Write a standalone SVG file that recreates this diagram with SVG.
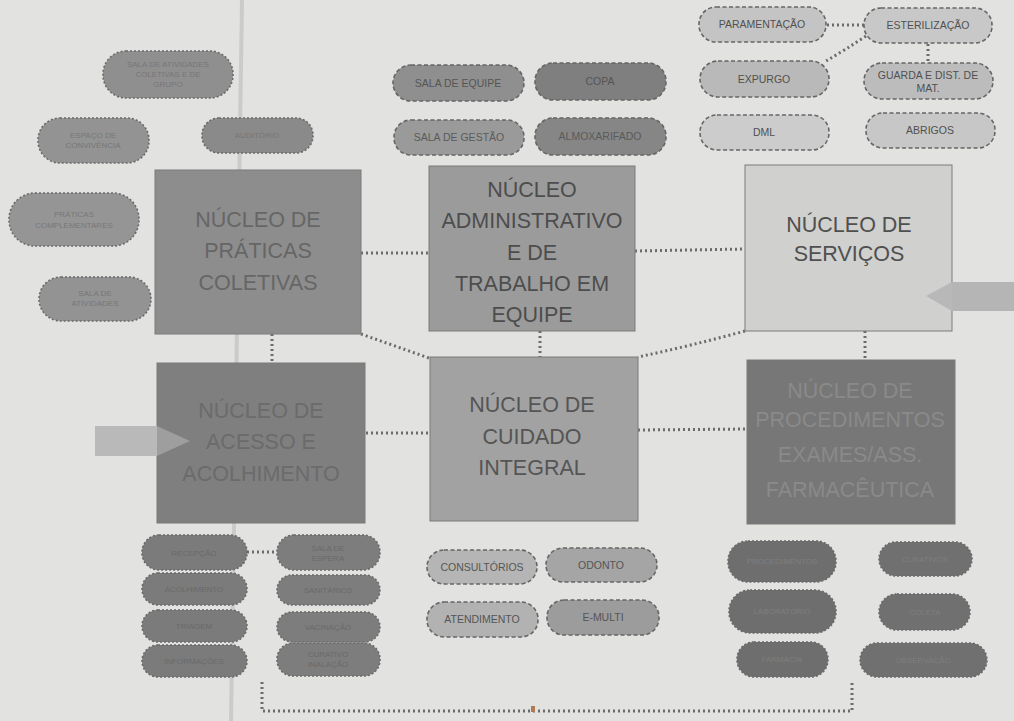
<svg xmlns="http://www.w3.org/2000/svg" width="1014" height="721" viewBox="0 0 1014 721">
<style>
text{font-family:"Liberation Sans",Arial,sans-serif;text-anchor:middle}
.big{font-size:21.5px}
.sm{font-size:10.5px}
.xs{font-size:8px}
.box{stroke:#7a7a7a;stroke-width:1}
.pill{stroke:#666;stroke-width:1.6;stroke-dasharray:4 2.5}
.dpill{stroke:#6a6a6a;stroke-width:1.6;stroke-dasharray:2 2}
.con{fill:none;stroke:#6b6b6b;stroke-width:3;stroke-dasharray:2 3}
</style>
<rect width="1014" height="721" fill="#e2e2e0"/>
<line x1="242" y1="0" x2="231" y2="721" stroke="#cbcbc9" stroke-width="4"/>

<g id="connectors">
<line class="con" x1="361" y1="253" x2="429" y2="253"/>
<line class="con" x1="635" y1="251" x2="745" y2="249"/>
<line class="con" x1="272" y1="334" x2="272" y2="363"/>
<line class="con" x1="540" y1="331" x2="540" y2="357"/>
<line class="con" x1="865" y1="331" x2="865" y2="360"/>
<line class="con" x1="366" y1="433" x2="430" y2="433"/>
<line class="con" x1="638" y1="430" x2="747" y2="429"/>
<path class="con" d="M361,334 Q395,346 429,358"/>
<path class="con" d="M745,331 Q690,346 638,357"/>
<path class="con" d="M262,682 L262,711 L852,711 L852,682"/>
<line class="con" x1="247" y1="552" x2="277" y2="552"/>
<line class="con" x1="827" y1="25" x2="864" y2="25"/>
<path class="con" d="M866,36 Q845,50 826,61"/>
<line class="con" x1="928" y1="44" x2="928" y2="63"/>
</g>
<rect x="531" y="706" width="4" height="6" fill="#b07a52"/>

<g id="n-praticas">
<rect class="box" x="155" y="170" width="206" height="164" fill="#8d8d8d"/>
<text class="big" fill="#666" x="258" y="227">NÚCLEO DE</text>
<text class="big" fill="#666" x="258" y="258">PRÁTICAS</text>
<text class="big" fill="#666" x="258" y="290">COLETIVAS</text>
</g>
<g id="n-admin">
<rect class="box" x="429" y="166" width="206" height="165" fill="#9b9b9b"/>
<text class="big" fill="#4d4d4d" x="532" y="197">NÚCLEO</text>
<text class="big" fill="#4d4d4d" x="532" y="228">ADMINISTRATIVO</text>
<text class="big" fill="#4d4d4d" x="532" y="260">E DE</text>
<text class="big" fill="#4d4d4d" x="532" y="291">TRABALHO EM</text>
<text class="big" fill="#4d4d4d" x="532" y="322">EQUIPE</text>
</g>
<g id="n-servicos">
<rect class="box" x="745" y="165" width="207" height="166" fill="#d0d0ce"/>
<text class="big" fill="#4f4f4f" x="849" y="232">NÚCLEO DE</text>
<text class="big" fill="#4f4f4f" x="849" y="261">SERVIÇOS</text>
</g>
<g id="n-acesso">
<rect class="box" x="157" y="363" width="208" height="160" fill="#7f7f7f"/>
<text class="big" fill="#6b6b6b" x="261" y="418">NÚCLEO DE</text>
<text class="big" fill="#6b6b6b" x="261" y="449">ACESSO E</text>
<text class="big" fill="#6b6b6b" x="261" y="481">ACOLHIMENTO</text>
</g>
<g id="n-cuidado">
<rect class="box" x="430" y="357" width="208" height="164" fill="#a2a2a2"/>
<text class="big" fill="#555" x="532" y="412">NÚCLEO DE</text>
<text class="big" fill="#555" x="532" y="444">CUIDADO</text>
<text class="big" fill="#555" x="532" y="475">INTEGRAL</text>
</g>
<g id="n-procedimentos">
<rect class="box" x="747" y="360" width="208" height="164" fill="#777"/>
<text class="big" fill="#8a8a8a" x="850" y="398">NÚCLEO DE</text>
<text class="big" fill="#8a8a8a" x="850" y="427">PROCEDIMENTOS</text>
<text class="big" fill="#8a8a8a" x="850" y="462">EXAMES/ASS.</text>
<text class="big" fill="#8a8a8a" x="850" y="497">FARMACÊUTICA</text>
</g>

<g id="arrow-left">
<polygon points="95,426 157,426 157,456 95,456" fill="#b9b9b9"/>
<polygon points="157,426 190,441 157,456" fill="#9e9e9e"/>
</g>
<g id="arrow-right">
<polygon points="1014,282 952,282 952,311 1014,311" fill="#b5b5b5"/>
<polygon points="952,282 926,296 952,311" fill="#b8b8b8"/>
</g>

<!-- top-left pills -->
<g id="p-tl1"><rect class="dpill" x="103" y="51" width="130" height="47" rx="23" fill="#8f8f8f"/>
<text class="xs" fill="#777" x="168" y="67">SALA DE ATIVIDADES</text><text class="xs" fill="#777" x="168" y="77">COLETIVAS E DE</text><text class="xs" fill="#777" x="168" y="87">GRUPO</text></g>
<g id="p-tl2"><rect class="dpill" x="38" y="118" width="111" height="45" rx="22" fill="#939393"/>
<text class="xs" fill="#777" x="93" y="138">ESPAÇO DE</text><text class="xs" fill="#777" x="93" y="148">CONVIVÊNCIA</text></g>
<g id="p-tl3"><rect class="dpill" x="202" y="118" width="111" height="35" rx="17" fill="#8a8a8a"/>
<text class="xs" fill="#757575" x="257" y="138">AUDITÓRIO</text></g>
<g id="p-tl4"><rect class="dpill" x="9" y="193" width="130" height="53" rx="26" fill="#959595"/>
<text class="xs" fill="#787878" x="74" y="217">PRÁTICAS</text><text class="xs" fill="#787878" x="74" y="228">COMPLEMENTARES</text></g>
<g id="p-tl5"><rect class="dpill" x="39" y="277" width="112" height="44" rx="22" fill="#939393"/>
<text class="xs" fill="#777" x="95" y="296">SALA DE</text><text class="xs" fill="#777" x="95" y="306">ATIVIDADES</text></g>

<!-- top-middle pills -->
<g id="p-sala-equipe"><rect class="pill" x="393" y="65" width="131" height="36" rx="18" fill="#8f8f8f"/><text class="sm" fill="#555" x="458" y="87">SALA DE EQUIPE</text></g>
<g id="p-copa"><rect class="pill" x="535" y="63" width="131" height="37" rx="18" fill="#7f7f7f"/><text class="sm" fill="#555" x="600" y="85">COPA</text></g>
<g id="p-sala-gestao"><rect class="pill" x="394" y="120" width="130" height="35" rx="17" fill="#9a9a9a"/><text class="sm" fill="#5a5a5a" x="459" y="141">SALA DE GESTÃO</text></g>
<g id="p-almox"><rect class="pill" x="535" y="118" width="131" height="37" rx="18" fill="#868686"/><text class="sm" fill="#5a5a5a" x="600" y="140">ALMOXARIFADO</text></g>

<!-- top-right pills -->
<g id="p-paramentacao"><rect class="pill" x="699" y="7" width="127" height="35" rx="17" fill="#c4c4c4"/><text class="sm" fill="#505050" x="762" y="28">PARAMENTAÇÃO</text></g>
<g id="p-esterilizacao"><rect class="pill" x="864" y="8" width="128" height="35" rx="17" fill="#c8c8c8"/><text class="sm" fill="#505050" x="928" y="29">ESTERILIZAÇÃO</text></g>
<g id="p-expurgo"><rect class="pill" x="700" y="61" width="129" height="36" rx="18" fill="#b9b9b9"/><text class="sm" fill="#505050" x="764" y="83">EXPURGO</text></g>
<g id="p-guarda"><rect class="pill" x="864" y="63" width="129" height="36" rx="18" fill="#bcbcbc"/><text class="sm" fill="#505050" x="928" y="79">GUARDA E DIST. DE</text><text class="sm" fill="#505050" x="928" y="92">MAT.</text></g>
<g id="p-dml"><rect class="pill" x="700" y="115" width="129" height="35" rx="17" fill="#cccccc"/><text class="sm" fill="#505050" x="764" y="136">DML</text></g>
<g id="p-abrigos"><rect class="pill" x="866" y="113" width="129" height="35" rx="17" fill="#c7c7c7"/><text class="sm" fill="#505050" x="930" y="134">ABRIGOS</text></g>

<!-- bottom-middle pills -->
<g id="p-consultorios"><rect class="pill" x="427" y="550" width="110" height="34" rx="17" fill="#b5b5b5"/><text class="sm" fill="#555" x="482" y="571">CONSULTÓRIOS</text></g>
<g id="p-odonto"><rect class="pill" x="546" y="548" width="111" height="34" rx="17" fill="#a5a5a5"/><text class="sm" fill="#555" x="601" y="569">ODONTO</text></g>
<g id="p-atendimento"><rect class="pill" x="427" y="602" width="111" height="35" rx="17" fill="#b2b2b2"/><text class="sm" fill="#555" x="482" y="623">ATENDIMENTO</text></g>
<g id="p-emulti"><rect class="pill" x="547" y="600" width="112" height="35" rx="17" fill="#9c9c9c"/><text class="sm" fill="#555" x="603" y="621">E-MULTI</text></g>

<!-- bottom-left pills -->
<g id="p-bl1"><rect class="dpill" x="142" y="535" width="105" height="35" rx="17" fill="#7b7b7b"/><text class="xs" fill="#6a6a6a" x="194" y="556">RECEPÇÃO</text></g>
<g id="p-bl2"><rect class="dpill" x="142" y="573" width="105" height="32" rx="16" fill="#7b7b7b"/><text class="xs" fill="#6a6a6a" x="194" y="592">ACOLHIMENTO</text></g>
<g id="p-bl3"><rect class="dpill" x="142" y="610" width="105" height="32" rx="16" fill="#7b7b7b"/><text class="xs" fill="#6a6a6a" x="194" y="629">TRIAGEM</text></g>
<g id="p-bl4"><rect class="dpill" x="142" y="645" width="105" height="32" rx="16" fill="#7b7b7b"/><text class="xs" fill="#6a6a6a" x="194" y="664">INFORMAÇÕES</text></g>
<g id="p-br1"><rect class="dpill" x="277" y="535" width="103" height="35" rx="17" fill="#7d7d7d"/><text class="xs" fill="#6a6a6a" x="328" y="551">SALA DE</text><text class="xs" fill="#6a6a6a" x="328" y="561">ESPERA</text></g>
<g id="p-br2"><rect class="dpill" x="277" y="575" width="103" height="30" rx="15" fill="#7d7d7d"/><text class="xs" fill="#6a6a6a" x="328" y="593">SANITÁRIOS</text></g>
<g id="p-br3"><rect class="dpill" x="277" y="612" width="103" height="30" rx="15" fill="#7d7d7d"/><text class="xs" fill="#6a6a6a" x="328" y="630">VACINAÇÃO</text></g>
<g id="p-br4"><rect class="dpill" x="277" y="643" width="103" height="33" rx="16" fill="#7d7d7d"/><text class="xs" fill="#6a6a6a" x="328" y="657">CURATIVO</text><text class="xs" fill="#6a6a6a" x="328" y="667">INALAÇÃO</text></g>

<!-- bottom-right pills -->
<g id="p-pr1"><rect class="dpill" x="728" y="541" width="108" height="41" rx="20" fill="#6e6e6e"/><text class="xs" fill="#7e7e7e" x="782" y="564">PROCEDIMENTOS</text></g>
<g id="p-pr2"><rect class="dpill" x="729" y="590" width="107" height="43" rx="21" fill="#6e6e6e"/><text class="xs" fill="#7e7e7e" x="782" y="614">LABORATÓRIO</text></g>
<g id="p-pr3"><rect class="dpill" x="737" y="642" width="91" height="35" rx="17" fill="#6e6e6e"/><text class="xs" fill="#7e7e7e" x="782" y="662">FARMÁCIA</text></g>
<g id="p-pr4"><rect class="dpill" x="879" y="542" width="93" height="34" rx="17" fill="#707070"/><text class="xs" fill="#7e7e7e" x="925" y="562">CURATIVOS</text></g>
<g id="p-pr5"><rect class="dpill" x="879" y="594" width="91" height="36" rx="18" fill="#707070"/><text class="xs" fill="#7e7e7e" x="925" y="615">COLETA</text></g>
<g id="p-pr6"><rect class="dpill" x="860" y="643" width="127" height="34" rx="17" fill="#707070"/><text class="xs" fill="#7e7e7e" x="923" y="663">OBSERVAÇÃO</text></g>
</svg>
